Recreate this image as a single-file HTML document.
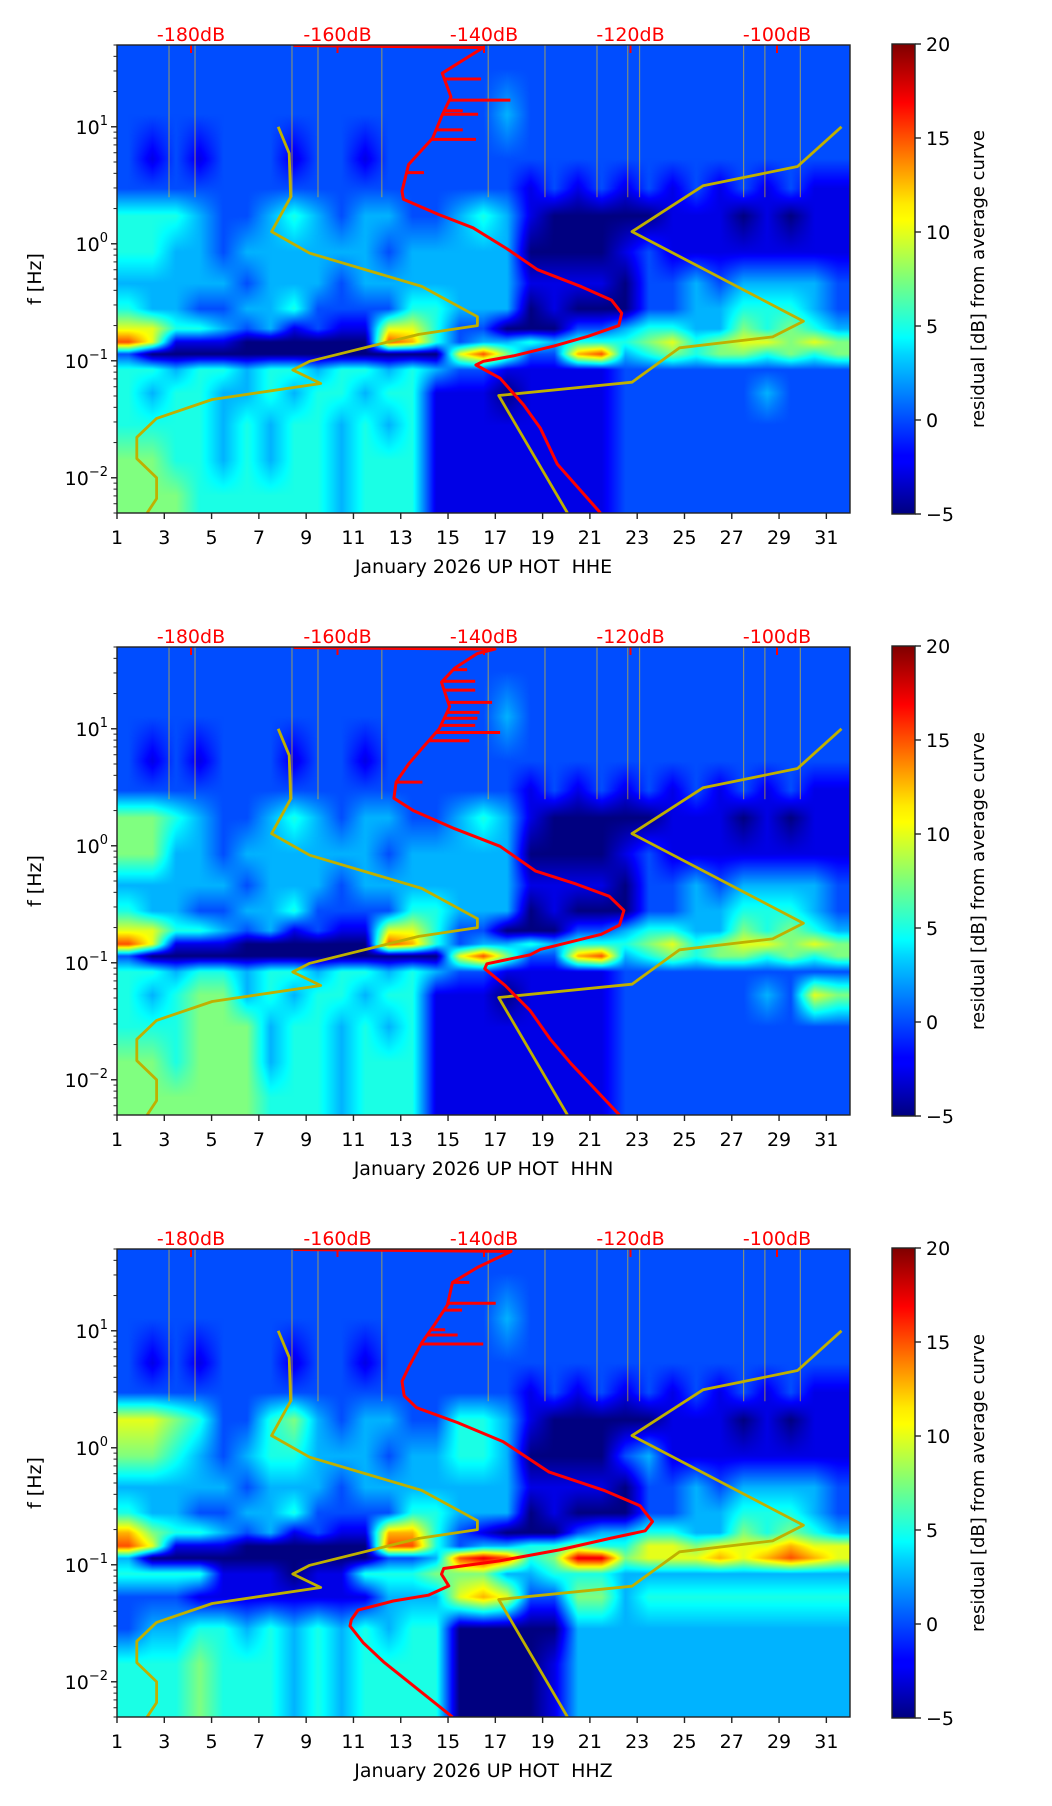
<!DOCTYPE html>
<html><head><meta charset="utf-8"><title>Residual spectrograms</title>
<style>
html,body{margin:0;padding:0;background:#fff;}
#wrap{position:relative;width:1052px;height:1806px;}
canvas{position:absolute;}
svg{position:absolute;left:0;top:0;display:block;font-family:"DejaVu Sans","Liberation Sans",sans-serif;}
text{white-space:pre;}
</style></head>
<body>
<div id="wrap">
<svg id="fig" width="1052" height="1806" viewBox="0 0 1052 1806" xmlns="http://www.w3.org/2000/svg">
<defs>
<linearGradient id="jetgrad" x1="0" y1="1" x2="0" y2="0">
<stop offset="0" stop-color="#00007f"/><stop offset="0.11" stop-color="#0000ff"/><stop offset="0.125" stop-color="#0000ff"/><stop offset="0.34" stop-color="#00d4ff"/><stop offset="0.375" stop-color="#00ffff"/><stop offset="0.5" stop-color="#7dff7a"/><stop offset="0.625" stop-color="#ffff00"/><stop offset="0.66" stop-color="#ffea00"/><stop offset="0.875" stop-color="#ff0000"/><stop offset="1" stop-color="#7f0000"/>
</linearGradient>
</defs>
</svg>
</div>
<script>
// ---- data ----
const bandEdges=[50,20,8,3.5,2.5,1.2,0.6,0.35,0.22,0.16,0.13,0.1,0.07,0.04,0.02,0.01,0.005];
const dayCount=31;
// residual level codes per band (top->bottom), one char per day; value = -5 + 2.5*code
const heatHHE=[
"2222222222222222222222222222222",
"2222222222222222322222222222222",
"2121222122122222222222222222222",
"2222222222222222212121212121211",
"4443223432332234310000011101011",
"4433233333323333300001211111111",
"3333323332333333311110223233332",
"4332233422224433301000223344432",
"6644323121166422000223443354543",
"8611100000087423343444564566565",
"2000000000000068522783454554545",
"4434434434434322111112222222222",
"4344334344344111011112222223222",
"4444343443434111111112222222222",
"5544343443444111111112222222222",
"5554444443444111111112222222222"];
const heatHHN=[
"2222222222222222222222222222222",
"2222222222222222322222222222222",
"2121222122122222222222222222222",
"2222222222222222212121212121211",
"5543223432332234310000011101011",
"5533233333323333300001211111111",
"3333323332333333311110223233332",
"4332233422224433301000223344432",
"6644323121166422000223443354543",
"8611100000087423343444564566565",
"2000000000000068522783454554545",
"4434434434434322111112222222222",
"4345534344344111011112222223265",
"4445553443434111111112222222222",
"5545553443444111111112222222222",
"5555554443444111111112222222222"];
const heatHHZ=[
"2222222222222222222222222222222",
"2222222222222222322222222222222",
"2121222122122222222222222222222",
"2222222222222222212121212121211",
"6654224532332244310000011101011",
"5543234433323344300002311111111",
"3333323332333333311110223233332",
"4332233422224433301000223344432",
"7544323121177421000233443354543",
"8611100000088423344544665666766",
"3000000000022389845995666767876",
"4444111011444555334443333333333",
"2221111111133367622553444444444",
"2334434343434400000333333333333",
"4445444343444400001333333333333",
"4445444343444400001333333333333"];
// bright vertical streak days (high-frequency interference lines)
const streakDays=[3.2,4.3,8.4,9.5,12.2,16.7,19.1,21.3,22.6,23.1,27.5,28.4,29.9];
const xTicks=[1,3,5,7,9,11,13,15,17,19,21,23,25,27,29,31];
const dbTicks=[-180,-160,-140,-120,-100];
const cbTicks=[-5,0,5,10,15,20];
const yTickF=[0.01,0.1,1,10];
const yTickExp=["\u22122","\u22121","0","1"];
// noise models (dB, Hz)
const nlnmDb=[-168.1,-166.6,-166.4,-169.0,-163.8,-148.5,-140.9,-140.9,-148.9,-163.8,-166.1,-162.3,-177.1,-184.7,-187.4,-187.4,-184.7,-184.7,-186.0];
const nlnmF=[10,5.93,2.5,1.27,0.83,0.432,0.238,0.2,0.168,0.099,0.0834,0.064,0.0467,0.0322,0.0222,0.0146,0.01,0.00664,0.005];
const nhnmDb=[-91.2,-97.2,-110.1,-119.8,-96.4,-100.6,-113.3,-119.8,-138.0,-128.6];
const nhnmF=[10,4.58,3.13,1.27,0.218,0.16,0.129,0.0656,0.0505,0.005];
// average curves
const redDbHHE=[-166,-140.1,-145.7,-144.5,-145.7,-147.0,-150.3,-151.2,-151,-146.2,-141.5,-136.9,-132.7,-126.7,-122.6,-121.2,-121.6,-125.8,-130.4,-136,-140.1,-141.1,-137.8,-134.6,-132.3,-130,-124.1];
const redFHHE=[49.5,47.6,28.7,18,12.6,8.0,4.76,2.82,2.4,1.78,1.37,0.91,0.6,0.43,0.33,0.255,0.2,0.162,0.134,0.11,0.099,0.092,0.071,0.042,0.0265,0.0131,0.005];
const spikeFHHE=[25.6,16.9,13.7,12.8,9.4,7.8,4.06];
const spikeDbHHE=[-140.4,-136.4,-142.9,-140.8,-142.9,-141.1,-148.2];
const redDbHHN=[-166,-138.5,-140.9,-144.0,-145.8,-144.7,-146.1,-148.2,-150.3,-152.0,-152.3,-149.6,-144.0,-137.8,-133.0,-127.4,-122.9,-120.9,-121.5,-124,-132.3,-133.7,-139.6,-139.9,-137.1,-133.7,-130.9,-128.1,-121.5];
const redFHHN=[49.5,48,44,33,25,15.4,10,7.1,5,3.5,2.55,1.99,1.4,0.99,0.61,0.47,0.37,0.28,0.21,0.175,0.13,0.117,0.098,0.089,0.064,0.039,0.022,0.0137,0.005];
const spikeFHHN=[32,25.5,21.4,16.8,13.8,12.3,10.7,9.3,7.9,3.5];
const spikeDbHHN=[-142.3,-141.2,-141.2,-138.9,-140.6,-140.9,-141.2,-137.8,-142,-148.4];
const redDbHHZ=[-166,-136.3,-140.8,-144.3,-145.0,-146.7,-148.5,-150.2,-151.2,-150.9,-149.2,-143.6,-137.4,-131.1,-123.5,-118.7,-117.0,-118.0,-122.8,-129.7,-137.9,-145.5,-145.8,-144.8,-147.6,-152.4,-157.2,-158.1,-158.3,-156.5,-153.7,-149.2,-144.3];
const redFHHZ=[49.5,47.7,35,25.9,16.6,11.4,7.9,5,3.7,2.78,2.2,1.64,1.13,0.62,0.43,0.32,0.234,0.195,0.168,0.134,0.108,0.093,0.083,0.066,0.055,0.049,0.041,0.034,0.03,0.0216,0.0148,0.0088,0.005];
const spikeFHHZ=[25.9,17.2,15,10.2,9.2,7.7];
const spikeDbHHZ=[-142.0,-138.4,-143,-145.3,-143.6,-140.1];
const panelTitles=["January 2026 UP HOT  HHE","January 2026 UP HOT  HHN","January 2026 UP HOT  HHZ"];
const channelNames=["hhe","hhn","hhz"];

// ---- layout ----
const NS="http://www.w3.org/2000/svg";
const svg=document.getElementById('fig');
const wrap=document.getElementById('wrap');
const L=117,R=850,H=468,tops=[45,647,1249];
const FMAX=50,FMIN=0.005;
function mk(tag,attrs,parent){const e=document.createElementNS(NS,tag);for(const k in attrs)e.setAttribute(k,attrs[k]);(parent||svg).appendChild(e);return e;}
function jetRGB(v){let t=(v+5)/25;t=Math.max(0,Math.min(1,t));const c=x=>Math.round(255*Math.max(0,Math.min(1,1.5-Math.abs(x))));return [c(4*t-3),c(4*t-2),c(4*t-1)];}
const xDay=d=>L+(d-1)*(R-L)/31;
const xDb=db=>191+(db+180)*7.325;

const heats=[heatHHE,heatHHN,heatHHZ];
const reds=[[redDbHHE,redFHHE,spikeDbHHE,spikeFHHE],[redDbHHN,redFHHN,spikeDbHHN,spikeFHHN],[redDbHHZ,redFHHZ,spikeDbHHZ,spikeFHHZ]];
const bandCenters=[];
for(let b=0;b<bandEdges.length-1;b++)bandCenters.push((Math.log10(bandEdges[b])+Math.log10(bandEdges[b+1]))/2);

tops.forEach((T,p)=>{
  const B=T+H;
  const lmax=Math.log10(FMAX),lmin=Math.log10(FMIN);
  const yF=f=>T+(lmax-Math.log10(f))*H/(lmax-lmin);
  const W=R-L;
  const cv=document.createElement('canvas');
  cv.width=W;cv.height=H;cv.style.left=L+'px';cv.style.top=T+'px';
  
  
  wrap.insertBefore(cv,svg);
  const ctx=cv.getContext('2d');const img=ctx.createImageData(W,H);
  const rows=heats[p];
  const V=rows.map(r=>Array.from(r).map(ch=>-5+2.5*parseInt(ch)));
  const nb=V.length;
  for(let py=0;py<H;py++){
    const lf=lmax-(py+0.5)/H*(lmax-lmin);
    let b0,b1,tb;
    if(lf>=bandCenters[0]){b0=b1=0;tb=0;}
    else if(lf<=bandCenters[nb-1]){b0=b1=nb-1;tb=0;}
    else{for(let b=0;b<nb-1;b++){if(lf<=bandCenters[b]&&lf>=bandCenters[b+1]){b0=b;b1=b+1;tb=(bandCenters[b]-lf)/(bandCenters[b]-bandCenters[b+1]);break;}}}
    for(let px=0;px<W;px++){
      const dpos=(px+0.5)/W*dayCount-0.5;
      let d0=Math.floor(dpos),td=dpos-d0,d1=d0+1;
      if(d0<0){d0=0;d1=0;td=0;} if(d1>dayCount-1){d1=dayCount-1;if(d0>dayCount-1)d0=dayCount-1;}
      const v=(V[b0][d0]*(1-td)+V[b0][d1]*td)*(1-tb)+(V[b1][d0]*(1-td)+V[b1][d1]*td)*tb;
      const c=jetRGB(v);const i=(py*W+px)*4;
      img.data[i]=c[0];img.data[i+1]=c[1];img.data[i+2]=c[2];img.data[i+3]=255;
    }
  }
  ctx.putImageData(img,0,0);

  const cid='clip'+p;
  const cp=mk('clipPath',{id:cid});mk('rect',{x:L,y:T,width:R-L,height:H},cp);
  const plot=mk('g',{'clip-path':`url(#${cid})`});
  
  
  streakDays.forEach(d=>{
    const s=mk('line',{x1:xDay(d),y1:T,x2:xDay(d),y2:yF(2.5),stroke:'#ffd000','stroke-width':1.2,'stroke-opacity':0.5},plot);
    
    
  });
  const poly=(dbs,fs,color,w,name)=>{const pts=dbs.map((db,i)=>xDb(db).toFixed(1)+','+yF(fs[i]).toFixed(1)).join(' ');const e=mk('polyline',{points:pts,fill:'none',stroke:color,'stroke-width':w,'stroke-linejoin':'round'},plot);return e;};
  poly(nlnmDb,nlnmF,'#bfb000',2.8,'low-noise-model-line');
  poly(nhnmDb,nhnmF,'#bfb000',2.8,'high-noise-model-line');
  const rd=reds[p];
  poly(rd[0],rd[1],'#ff0000',3,'average-curve-line');
  const interp=f=>{const fs=rd[1],ds=rd[0];const lf=Math.log10(f);for(let i=1;i<fs.length;i++){const a=Math.log10(fs[i-1]),b=Math.log10(fs[i]);if(lf<=a&&lf>=b){const t=(a-lf)/(a-b);return ds[i-1]+t*(ds[i]-ds[i-1]);}}return ds[ds.length-1];};
  rd[3].forEach((f,i)=>{const e=mk('line',{x1:xDb(interp(f)),y1:yF(f),x2:xDb(rd[2][i]),y2:yF(f),stroke:'#ff0000','stroke-width':3},plot);
    
    });
  dbTicks.forEach(db=>{const x=xDb(db);
    const t=mk('line',{x1:x,y1:T,x2:x,y2:T+8,stroke:'#ff0000','stroke-width':2});
    
    
    const lb=mk('text',{x:x,y:T-4,'text-anchor':'middle','font-size':19,fill:'#ff0000'});lb.textContent=db+'dB';
    
    });
  const fr=mk('rect',{x:L,y:T,width:R-L,height:H,fill:'none',stroke:'#222','stroke-width':1.4});
  
  
  xTicks.forEach(d=>{const x=xDay(d);mk('line',{x1:x,y1:B,x2:x,y2:B+6,stroke:'#222','stroke-width':1.4});
    const lb=mk('text',{x:x,y:B+31,'text-anchor':'middle','font-size':19,fill:'#000'});lb.textContent=String(d);
    
    });
  const xl=mk('text',{x:(L+R)/2,y:B+60,'text-anchor':'middle','font-size':19,fill:'#000'});xl.textContent=panelTitles[p];
  
  
  for(let k=-3;k<=1;k++)for(let m=2;m<=9;m++){const f=m*Math.pow(10,k);if(f<FMIN||f>FMAX)continue;const y=yF(f);mk('line',{x1:L-3.5,y1:y,x2:L,y2:y,stroke:'#222','stroke-width':1});}
  yTickF.forEach((f,i)=>{const y=yF(f);mk('line',{x1:L-6,y1:y,x2:L,y2:y,stroke:'#222','stroke-width':1.4});
    const lb=mk('text',{x:L-9,y:y+7,'text-anchor':'end','font-size':19,fill:'#000'});
    
    
    const a=document.createElementNS(NS,'tspan');a.textContent='10';lb.appendChild(a);
    const s=document.createElementNS(NS,'tspan');s.setAttribute('dy','-9');s.setAttribute('font-size','13');s.textContent=yTickExp[i];lb.appendChild(s);});
  const yl=mk('text',{x:41,y:T+H/2,'text-anchor':'middle','font-size':19,fill:'#000',transform:`rotate(-90 41 ${T+H/2})`});yl.textContent='f [Hz]';
  
  
  const cbT=T-1,cbB=B+1;
  const cb=mk('rect',{x:892,y:cbT,width:23,height:cbB-cbT,fill:'url(#jetgrad)',stroke:'#222','stroke-width':1.4});
  
  
  cbTicks.forEach(v=>{const y=cbB-(v+5)/25*(cbB-cbT);mk('line',{x1:915,y1:y,x2:921,y2:y,stroke:'#222','stroke-width':1.4});
    const lb=mk('text',{x:926,y:y+7,'font-size':19,fill:'#000'});lb.textContent=v<0?'\u2212'+Math.abs(v):String(v);
    
    });
  const cl=mk('text',{x:984,y:T+H/2,'text-anchor':'middle','font-size':18,fill:'#000',transform:`rotate(-90 984 ${T+H/2})`});cl.textContent='residual [dB] from average curve';
  
  
});
</script>
</body></html>
